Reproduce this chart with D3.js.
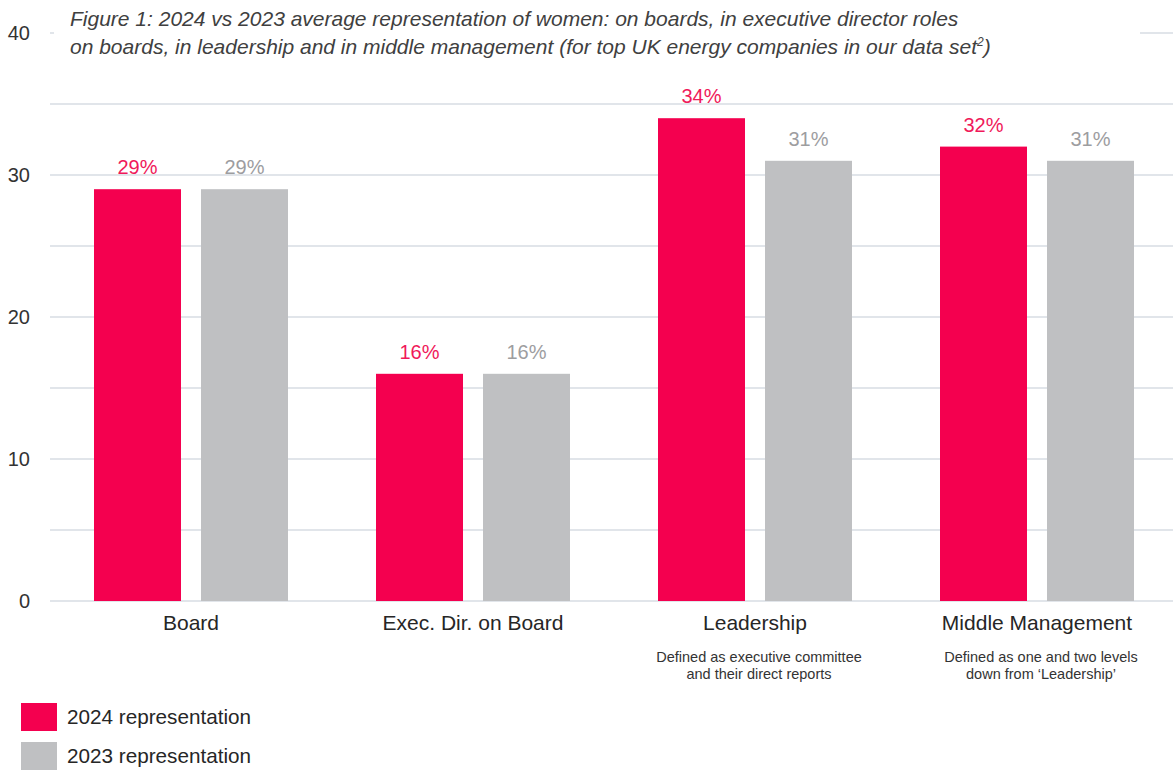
<!DOCTYPE html>
<html>
<head>
<meta charset="utf-8">
<script src="https://cdn.jsdelivr.net/npm/d3@7"></script>
<style>
  body { margin: 0; background: #fff; }
  text { font-family: "Liberation Sans", Arial, sans-serif; }
</style>
</head>
<body>
<div id="chart"></div>
<script>
// chart data
var categories = ["Board", "Exec. Dir. on Board", "Leadership", "Middle Management"];
var categoryNotes = [
    [],
    [],
    ["Defined as executive committee", "and their direct reports"],
    ["Defined as one and two levels", "down from \u2018Leadership\u2019"]
];
var seriesNames = ["2024 representation", "2023 representation"];
var values2024 = [29, 16, 34, 32];
var values2023 = [29, 16, 31, 31];
var yTickValues = [0, 10, 20, 30, 40];
var titleLines = [
    "Figure 1: 2024 vs 2023 average representation of women: on boards, in executive director roles",
    "on boards, in leadership and in middle management (for top UK energy companies in our data set"
];

var width = 1173,
    height = 772;

var colors = { "2024 representation": "#f4004f", "2023 representation": "#bfc0c2" };
var labelColors = { "2024 representation": "#f0195a", "2023 representation": "#9d9d9f" };

var svg = d3.select("#chart").append("svg")
    .attr("width", width)
    .attr("height", height);

var y = d3.scaleLinear()
    .domain([0, 40])
    .range([601, 33]);

var x0 = d3.scaleBand()
    .domain(categories)
    .range([50, 1178]);

var x1 = d3.scaleBand()
    .domain(seriesNames)
    .range([44, 238])
    .paddingInner(0.187);

// gridlines every 5
svg.append("g")
    .selectAll("line")
    .data(y.ticks(8))
    .enter().append("line")
        .attr("x1", 50)
        .attr("x2", width)
        .attr("y1", (d) => y(d))
        .attr("y2", (d) => y(d))
        .attr("stroke", "#e1e5ea")
        .attr("stroke-width", 2);

// y tick labels
svg.append("g")
    .selectAll("text")
    .data(yTickValues)
    .enter().append("text")
        .attr("x", 30)
        .attr("y", (d) => y(d))
        .attr("dy", "0.36em")
        .attr("text-anchor", "end")
        .attr("font-size", 20)
        .attr("fill", "#333")
        .text((d) => d);

// title, with a white box that hides the top gridline
svg.append("rect")
    .attr("x", 54)
    .attr("y", 0)
    .attr("width", 1086)
    .attr("height", 64)
    .attr("fill", "#fff");

var title = svg.append("text")
    .attr("font-size", 21)
    .attr("font-style", "italic")
    .attr("fill", "#404040");
title.selectAll("tspan")
    .data(titleLines)
    .enter().append("tspan")
        .attr("x", 70)
        .attr("y", (d, i) => 26 + i * 28)
        .text((d) => d);
title.append("tspan")
    .attr("font-size", 12)
    .attr("dy", -8)
    .text("2");
title.append("tspan")
    .attr("dy", 8)
    .text(")");

// bars
var rows = categories.map((c, i) => ({
    category: c,
    values: [
        { series: seriesNames[0], value: values2024[i] },
        { series: seriesNames[1], value: values2023[i] }
    ]
}));

var groups = svg.append("g")
    .selectAll("g")
    .data(rows)
    .enter().append("g")
        .attr("transform", (d) => "translate(" + x0(d.category) + ",0)");

groups.selectAll("rect")
    .data((d) => d.values)
    .enter().append("rect")
        .attr("x", (d) => x1(d.series))
        .attr("y", (d) => y(d.value))
        .attr("width", x1.bandwidth())
        .attr("height", (d) => y(0) - y(d.value))
        .attr("fill", (d) => colors[d.series]);

groups.selectAll("text.value")
    .data((d) => d.values)
    .enter().append("text")
        .attr("class", "value")
        .attr("x", (d) => x1(d.series) + x1.bandwidth() / 2)
        .attr("y", (d) => y(d.value) - 15)
        .attr("text-anchor", "middle")
        .attr("font-size", 20)
        .attr("fill", (d) => labelColors[d.series])
        .text((d) => d.value + "%");

// category labels and notes
var cats = svg.append("g")
    .selectAll("g")
    .data(categories)
    .enter().append("g")
        .attr("transform", (d) => "translate(" + (x0(d) + x0.bandwidth() / 2) + ",0)");

cats.append("text")
    .attr("y", 630)
    .attr("text-anchor", "middle")
    .attr("font-size", 21)
    .attr("fill", "#262626")
    .text((d) => d);

cats.selectAll("text.note")
    .data((d, i) => categoryNotes[i])
    .enter().append("text")
        .attr("class", "note")
        .attr("x", 4)
        .attr("y", (d, i) => 662 + i * 17)
        .attr("text-anchor", "middle")
        .attr("font-size", 14.5)
        .attr("fill", "#333")
        .text((d) => d);

// legend
var legend = svg.append("g")
    .selectAll("g")
    .data(seriesNames)
    .enter().append("g")
        .attr("transform", (d, i) => "translate(21," + (703 + i * 39) + ")");

legend.append("rect")
    .attr("width", 36)
    .attr("height", 28)
    .attr("fill", (d) => colors[d]);

legend.append("text")
    .attr("x", 46)
    .attr("y", 14)
    .attr("dy", "0.36em")
    .attr("font-size", 20.7)
    .attr("fill", "#262626")
    .text((d) => d);
</script>
</body>
</html>
